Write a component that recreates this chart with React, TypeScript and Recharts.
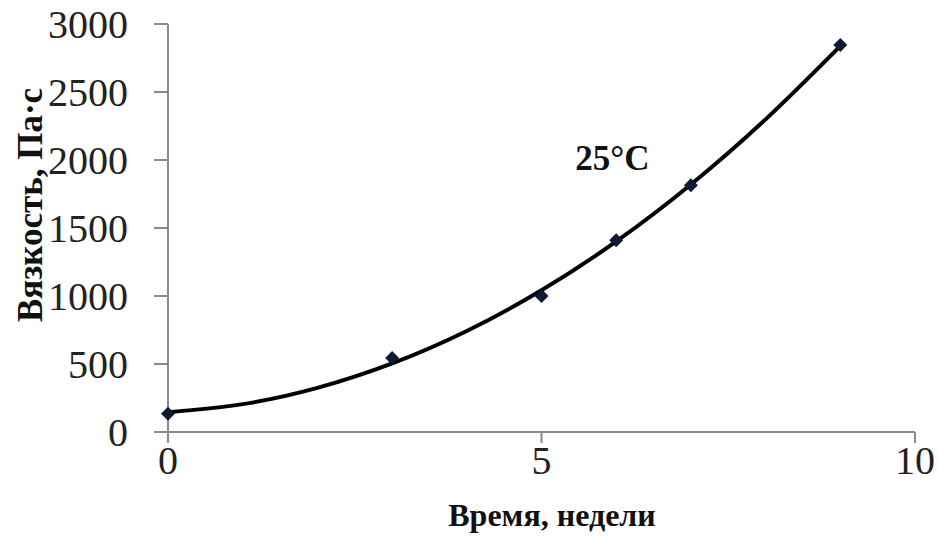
import React from "react";
import {
  ComposedChart,
  Line,
  Scatter,
  XAxis,
  YAxis,
  ReferenceDot,
} from "recharts";

// measured viscosity at 25°C
const weeks = [0, 3, 5, 6, 7, 9];
const viscosity = [135, 545, 1000, 1410, 1815, 2845];

// polynomial trend line, sampled per week
const trendWeeks = [0, 1, 2, 3, 4, 5, 6, 7, 8, 9];
const trendViscosity = [146, 205, 324, 504, 743, 1042, 1401, 1820, 2299, 2838];

const xTicks = [0, 5, 10];
const yTicks = [0, 500, 1000, 1500, 2000, 2500, 3000];

const points = weeks.map((week, i) => ({ week, value: viscosity[i] }));
const trend = trendWeeks.map((week, i) => ({ week, trend: trendViscosity[i] }));

const serif = "'Liberation Serif', 'Times New Roman', serif";
const axisGray = "#8a8a8a";

const tickStyle = { fontFamily: serif, fontSize: 40, fill: "#222" };

function Diamond(props: any) {
  const { cx, cy } = props;
  const r = 7;
  return (
    <polygon
      points={`${cx},${cy - r} ${cx + r},${cy} ${cx},${cy + r} ${cx - r},${cy}`}
      fill="#101a33"
    />
  );
}

export default function App() {
  return (
    <div style={{ position: "absolute", top: 0, left: 0, background: "#fff" }}>
      <ComposedChart
        width={939}
        height={541}
        margin={{ top: 24, right: 24, bottom: 0, left: 0 }}
      >
        <XAxis
          dataKey="week"
          type="number"
          domain={[0, 10]}
          ticks={xTicks}
          height={109}
          stroke={axisGray}
          strokeWidth={2}
          tickSize={11}
          tickMargin={3}
          tick={tickStyle}
          label={{
            content: () => (
              <text
                x={552}
                y={515}
                textAnchor="middle"
                dominantBaseline="central"
                fontFamily={serif}
                fontSize={32}
                fontWeight="bold"
                fill="#111"
              >
                Время, недели
              </text>
            ),
          }}
        />
        <YAxis
          type="number"
          domain={[0, 3000]}
          ticks={yTicks}
          width={168}
          stroke={axisGray}
          strokeWidth={2}
          tickSize={14}
          tickMargin={26}
          tick={tickStyle}
          label={{
            content: () => (
              <text
                x={30}
                y={205}
                transform="rotate(-90 30 205)"
                textAnchor="middle"
                dominantBaseline="central"
                fontFamily={serif}
                fontSize={35}
                fontWeight="bold"
                fill="#111"
              >
                Вязкость, Па·с
              </text>
            ),
          }}
        />
        <Line
          data={trend}
          dataKey="trend"
          type="natural"
          stroke="#000"
          strokeWidth={4}
          dot={false}
          activeDot={false}
          isAnimationActive={false}
        />
        <Scatter
          data={points}
          dataKey="value"
          shape={Diamond}
          isAnimationActive={false}
        />
        <ReferenceDot
          x={5.95}
          y={2015}
          r={0}
          stroke="none"
          fill="none"
          label={{
            value: "25°C",
            position: "center",
            fontFamily: serif,
            fontSize: 35,
            fontWeight: "bold",
            fill: "#111",
          }}
        />
      </ComposedChart>
    </div>
  );
}
